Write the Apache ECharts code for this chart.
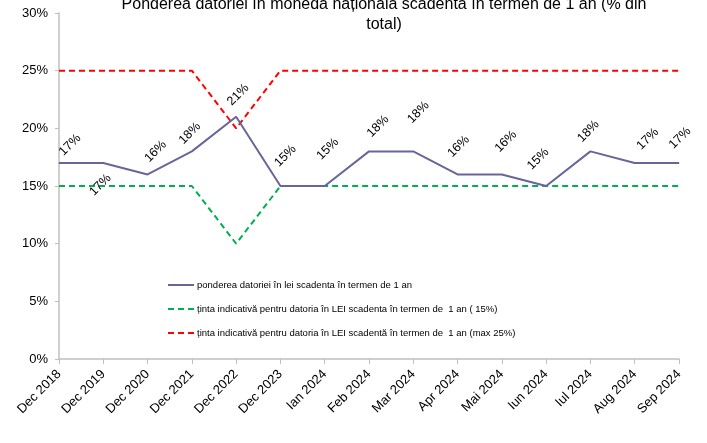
<!DOCTYPE html>
<html>
<head>
<meta charset="utf-8">
<script src="https://cdn.jsdelivr.net/npm/echarts@6/dist/echarts.min.js"></script>
<style>html,body{margin:0;padding:0;background:#fff;}#c{width:707px;height:443px;}</style>
</head>
<body>
<div id="c"></div>
<script>
const categories = ['Dec 2018','Dec 2019','Dec 2020','Dec 2021','Dec 2022','Dec 2023','Ian 2024','Feb 2024','Mar 2024','Apr 2024','Mai 2024','Iun 2024','Iul 2024','Aug 2024','Sep 2024'];
const ponderea = [17,17,16,18,21,15,15,18,18,16,16,15,18,17,17];
const tinta15 = [15,15,15,15,10,15,15,15,15,15,15,15,15,15,15];
const tinta25 = [25,25,25,25,20,25,25,25,25,25,25,25,25,25,25];
const seriesNames = [
  'ponderea datoriei în lei scadenta în termen de 1 an',
  'ținta indicativă pentru datoria în LEI scadenta în termen de  1 an ( 15%)',
  'ținta indicativă pentru datoria în LEI scadentă în termen de  1 an (max 25%)'
];
const titleText = 'Ponderea datoriei în moneda națională scadentă în termen de 1 an (% din\ntotal)';
// screen-space label nudges (layout only)
const labelNudge = [[11,-18],[-3,22],[8,-23],[-2,-18],[2,-22],[5,-30],[3,-37],[9,-25],[5,-39],[1,-28],[4,-33],[-8,-27],[-2,-20],[13,-24],[1,-25]];

const c = Math.SQRT1_2;
const mainData = ponderea.map((v,i)=>{
  const sx = labelNudge[i][0], sy = labelNudge[i][1];
  return {value: v, label: {offset: [c*(sx - sy), c*(sx + sy)]}};
});

const font = 'Liberation Sans, Arial, sans-serif';
const chart = echarts.init(document.getElementById('c'));
chart.setOption({
  animation: false,
  title: {
    text: titleText, left: 379, top: -10, textAlign: 'center',
    textStyle: {fontFamily: font, fontSize: 16, fontWeight: 'normal', color: '#000', lineHeight: 20}
  },
  legend: {
    orient: 'vertical', left: 162, top: 275, itemGap: 14, itemWidth: 26, itemHeight: 10,
    textStyle: {fontFamily: font, fontSize: 9.5, color: '#000', padding: [0,0,0,-2]},
    itemStyle: {opacity: 0},
    data: seriesNames
  },
  grid: {left: 59, right: 28, top: 13, bottom: 84, containLabel: false},
  xAxis: {
    type: 'category', data: categories, boundaryGap: false,
    axisLine: {lineStyle: {color: '#bfbfbf', width: 1.5}},
    axisTick: {show: true, length: 5, lineStyle: {color: '#bfbfbf'}},
    axisLabel: {rotate: 45, fontFamily: font, fontSize: 13, color: '#000', margin: 13, interval: 0}
  },
  yAxis: {
    type: 'value', min: 0, max: 30, interval: 5,
    axisLine: {show: true, lineStyle: {color: '#bfbfbf', width: 1.5}},
    axisTick: {show: true, length: 4, lineStyle: {color: '#bfbfbf'}},
    splitLine: {show: false},
    axisLabel: {formatter: '{value}%', fontFamily: font, fontSize: 13, color: '#000', margin: 11}
  },
  series: [
    {
      name: seriesNames[0], type: 'line', data: mainData, z: 5,
      symbol: 'circle', symbolSize: 1, color: '#666699',
      lineStyle: {color: '#666699', width: 2},
      label: {show: true, position: 'inside', rotate: 45, formatter: '{c}%', align: 'center', verticalAlign: 'middle',
        fontFamily: font, fontSize: 12.5, color: '#000'}
    },
    {
      name: seriesNames[1], type: 'line', data: tinta15, z: 3,
      symbol: 'none', color: '#00b050',
      lineStyle: {color: '#00b050', width: 2, type: [6,4]}
    },
    {
      name: seriesNames[2], type: 'line', data: tinta25, z: 3,
      symbol: 'none', color: '#ff0000',
      lineStyle: {color: '#ff0000', width: 2, type: [6,4]}
    }
  ]
});
</script>
</body>
</html>
